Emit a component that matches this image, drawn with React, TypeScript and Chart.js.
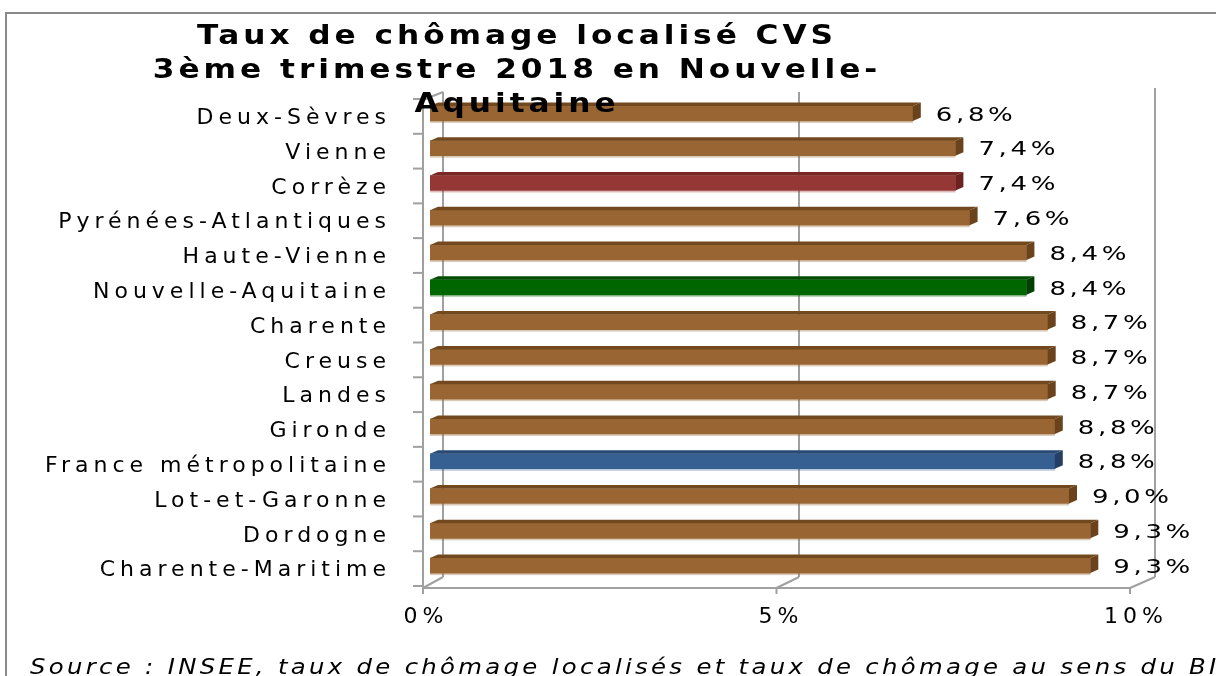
import { useEffect, useRef } from 'react';
import { Chart, registerables } from 'chart.js';

Chart.register(...registerables);

const categories = [
  'Deux-Sèvres',
  'Vienne',
  'Corrèze',
  'Pyrénées-Atlantiques',
  'Haute-Vienne',
  'Nouvelle-Aquitaine',
  'Charente',
  'Creuse',
  'Landes',
  'Gironde',
  'France métropolitaine',
  'Lot-et-Garonne',
  'Dordogne',
  'Charente-Maritime',
];
const rates = [6.8, 7.4, 7.4, 7.6, 8.4, 8.4, 8.7, 8.7, 8.7, 8.8, 8.8, 9.0, 9.3, 9.3];
const xTicks = [0, 5, 10];
const titleLines = ['Taux de chômage localisé CVS', '3ème trimestre 2018 en Nouvelle-', 'Aquitaine'];
const sourceText = 'Source : INSEE, taux de chômage localisés et taux de chômage au sens du BIT';

type Shade = { front: string; top: string; side: string; edge: string };
const brown: Shade = { front: '#996633', top: '#72491f', side: '#6a421c', edge: 'rgba(153,102,51,0.35)' };
const highlights: Record<string, Shade> = {
  'Corrèze': { front: '#953735', top: '#7a2826', side: '#6c2221', edge: 'rgba(149,55,53,0.35)' },
  'Nouvelle-Aquitaine': { front: '#006600', top: '#004c00', side: '#004000', edge: 'rgba(0,102,0,0.35)' },
  'France métropolitaine': { front: '#376092', top: '#294a74', side: '#243f63', edge: 'rgba(55,96,146,0.35)' },
};
const shadeOf = (name: string): Shade => highlights[name] || brown;

const FONT = '"DejaVu Sans", "Noto Sans", sans-serif';

const stretchText = (
  ctx: CanvasRenderingContext2D,
  text: string,
  x: number,
  y: number,
  align: CanvasTextAlign,
  sx: number,
) => {
  ctx.save();
  ctx.translate(x, y);
  ctx.scale(sx, 1);
  ctx.textAlign = align;
  ctx.fillText(text, 0, 0);
  ctx.restore();
};

const frame3d = {
  id: 'frame3d',
  beforeDraw(chart: any) {
    chart.ctx.letterSpacing = '5px';
  },
  beforeDatasetsDraw(chart: any) {
    const { ctx, chartArea: a } = chart;
    const x = chart.scales.x;
    const back = (v: number) => x.getPixelForValue(v) + 13 + 0.2 * v;
    const front = (v: number) => x.getPixelForValue(v) - 7 - 0.3 * v;
    const yTopBack = a.top - 4;
    const yBotBack = a.bottom - 6;
    const yFront = a.bottom + 5;
    const yTopFront = a.top + 4;
    const line = (x1: number, y1: number, x2: number, y2: number) => {
      ctx.beginPath();
      ctx.moveTo(x1, y1);
      ctx.lineTo(x2, y2);
      ctx.stroke();
    };
    ctx.save();
    ctx.letterSpacing = '0px';
    ctx.strokeStyle = '#a0a0a0';
    ctx.lineWidth = 2;
    xTicks.forEach((v) => {
      const top = v === xTicks[xTicks.length - 1] ? a.top - 8 : yTopBack;
      line(back(v), top, back(v), yBotBack);
      line(back(v), yBotBack, front(v), yFront);
      line(front(v), yFront, front(v), yFront + 6);
    });
    line(front(0), yFront, front(xTicks[xTicks.length - 1]), yFront);
    line(front(0), yFront, front(0), yTopFront);
    line(front(0), yTopFront, back(0), yTopBack);
    const n = categories.length;
    for (let i = 0; i <= n; i++) {
      const yy = a.top + (i * a.height) / n + 3;
      line(front(0) - 10, yy, front(0), yy);
    }
    ctx.restore();
  },
  afterDatasetsDraw(chart: any) {
    const { ctx } = chart;
    const meta = chart.getDatasetMeta(0);
    const dx = 8;
    const dy = 3.5;
    ctx.save();
    meta.data.forEach((el: any, i: number) => {
      const { x: xe, y: ye, base, height: h } = el.getProps(['x', 'y', 'base', 'height'], true);
      const s = shadeOf(categories[i]);
      const top = ye - h / 2;
      const bot = ye + h / 2;
      ctx.fillStyle = s.top;
      ctx.beginPath();
      ctx.moveTo(base, top);
      ctx.lineTo(base + dx, top - dy);
      ctx.lineTo(xe + dx, top - dy);
      ctx.lineTo(xe, top);
      ctx.closePath();
      ctx.fill();
      ctx.fillStyle = s.side;
      ctx.beginPath();
      ctx.moveTo(xe, top);
      ctx.lineTo(xe + dx, top - dy);
      ctx.lineTo(xe + dx, bot - dy);
      ctx.lineTo(xe, bot);
      ctx.closePath();
      ctx.fill();
      ctx.fillStyle = s.edge;
      ctx.fillRect(base, bot, xe - base, 2);

      ctx.letterSpacing = '2.8px';
      ctx.font = `20px ${FONT}`;
      ctx.fillStyle = '#000';
      ctx.textBaseline = 'middle';
      stretchText(ctx, rates[i].toFixed(1).replace('.', ',') + '%', xe + 23, ye + 2, 'left', 1.3);
    });
    ctx.restore();
  },
  afterDraw(chart: any) {
    const { ctx } = chart;
    ctx.save();
    // outer frame
    ctx.letterSpacing = '0px';
    ctx.strokeStyle = '#8a8a8a';
    ctx.lineWidth = 2;
    ctx.beginPath();
    ctx.moveTo(6, 676);
    ctx.lineTo(6, 13);
    ctx.lineTo(1216, 13);
    ctx.stroke();
    // title
    ctx.fillStyle = '#000';
    ctx.font = `bold 26px ${FONT}`;
    ctx.letterSpacing = '3.3px';
    ctx.textBaseline = 'alphabetic';
    const baselines = [44, 78, 112];
    titleLines.forEach((t, i) => stretchText(ctx, t, 517, baselines[i], 'center', 1.2));
    // source
    ctx.font = `italic 21px ${FONT}`;
    ctx.letterSpacing = '2.85px';
    stretchText(ctx, sourceText, 30, 674, 'left', 1.16);
    ctx.restore();
  },
};

export default function App() {
  const ref = useRef<HTMLCanvasElement>(null);
  useEffect(() => {
    Chart.defaults.font.family = FONT;
    const chart = new Chart(ref.current as HTMLCanvasElement, {
      type: 'bar',
      data: {
        labels: categories,
        datasets: [
          {
            data: rates,
            backgroundColor: categories.map((c) => shadeOf(c).front),
            barThickness: 15,
            borderWidth: 0,
          },
        ],
      },
      options: {
        indexAxis: 'y',
        responsive: false,
        maintainAspectRatio: false,
        animation: false,
        devicePixelRatio: 1,
        layout: { padding: { top: 96, right: 76, bottom: 0, left: 0 } },
        plugins: {
          legend: { display: false },
          title: { display: false },
          tooltip: { enabled: false },
        },
        scales: {
          x: {
            min: 0,
            max: 10,
            afterFit: (s: any) => {
              s.height = 93;
            },
            grid: { display: false, drawTicks: false },
            border: { display: false },
            ticks: {
              stepSize: 5,
              callback: (v: any) => v + '%',
              color: '#000',
              font: { family: FONT, size: 22 },
              padding: 21,
              labelOffset: -4,
              maxRotation: 0,
            },
          },
          y: {
            afterFit: (s: any) => {
              s.width = 430;
            },
            grid: { display: false, drawTicks: false },
            border: { display: false },
            ticks: {
              color: '#000',
              font: { family: FONT, size: 22 },
              padding: 39,
              labelOffset: 5,
              autoSkip: false,
            },
          },
        },
      },
      plugins: [frame3d],
    });
    return () => chart.destroy();
  }, []);
  return (
    <div style={{ position: 'fixed', left: 0, top: 0, width: 1216, height: 676, background: '#fff' }}>
      <canvas ref={ref} width={1216} height={676} style={{ display: 'block', width: 1216, height: 676 }} />
    </div>
  );
}
